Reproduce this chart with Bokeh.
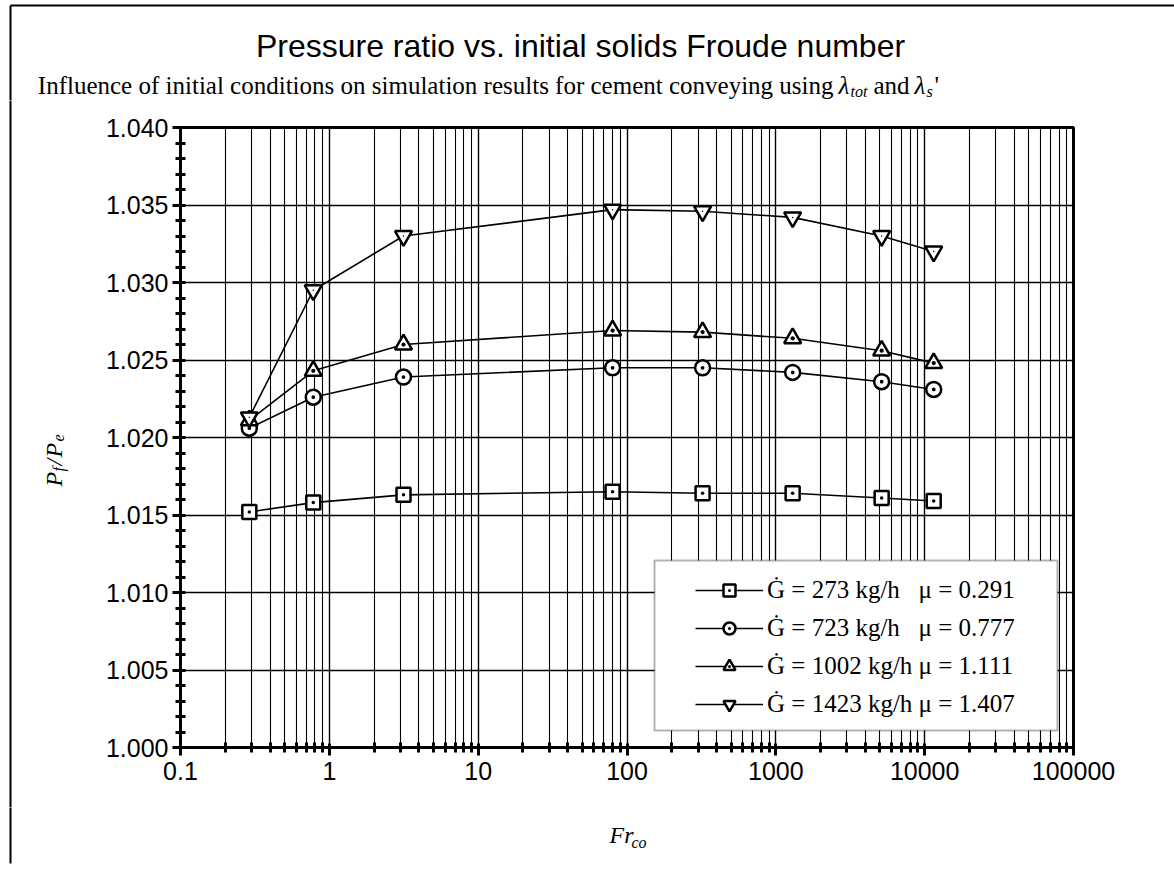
import math
from bokeh.plotting import figure
from bokeh.layouts import column, row
from bokeh.models import (FixedTicker, SingleIntervalTicker, NumeralTickFormatter, Label,
                          Legend, LegendItem, BoxAnnotation, ColumnDataSource, Range1d)
from bokeh.embed import file_html
from bokeh.resources import INLINE

# ---------------- data ----------------
fr_co = [0.29, 0.78, 3.15, 80, 322, 1297, 5140, 11500]
ratio_273 = [1.0152, 1.0158, 1.0163, 1.0165, 1.0164, 1.0164, 1.0161, 1.0159]
ratio_723 = [1.0206, 1.0226, 1.0239, 1.0245, 1.0245, 1.0242, 1.0236, 1.0231]
ratio_1002 = [1.0211, 1.0243, 1.0260, 1.0269, 1.0268, 1.0264, 1.0256, 1.0248]
ratio_1423 = [1.0213, 1.0295, 1.0330, 1.0347, 1.0346, 1.0342, 1.0330, 1.0320]
series_labels = ["Ġ = 273 kg/h\u00a0\u00a0 μ = 0.291", "Ġ = 723 kg/h\u00a0\u00a0 μ = 0.777",
                 "Ġ = 1002 kg/h μ = 1.111", "Ġ = 1423 kg/h μ = 1.407"]
x_ticks = [0.1, 1, 10, 100, 1000, 10000, 100000]
x_minor_ticks = [k * 10.0 ** e for e in range(-1, 5) for k in range(2, 10)]
x_lo, x_hi = 0.1, 100000
y_min, y_max, y_step = 1.000, 1.040, 0.005

# ---------------- layout (canvas px) ----------------
W, H = 1174, 871
TOP_H = 100                     # title strip
YL_W = 80                       # y-label strip
FL, FT, FW, FH = 180, 127, 893, 620
FB = FT + FH
MAIN_W = W - YL_W
BOT_B = 60
MAIN_H = (FT - TOP_H) + FH + BOT_B
XL_H = H - TOP_H - MAIN_H
BORDER_X = 10
SERIF = "Liberation Serif"
SANS = "Liberation Sans"


def no_align(f):
    try:
        f.frame_align = False
    except Exception:
        pass


def blank(w, h, y0):
    # y range expressed in page pixels (top -> bottom)
    f = figure(width=w, height=h, x_range=Range1d(0, w), y_range=Range1d(y0 + h, y0),
               min_border=0, toolbar_location=None, output_backend="svg",
               x_axis_location=None, y_axis_location=None,
               background_fill_color="white", border_fill_color="white")
    f.grid.visible = False
    f.outline_line_color = None
    no_align(f)
    return f


def lab(fig, text, x, y, font, size, align="left", baseline="alphabetic", style="normal", angle=0.0):
    fig.add_layout(Label(x=x, y=y, text=text, text_font=font, text_font_size=size,
                         text_align=align, text_baseline=baseline, text_font_style=style,
                         text_color="black", angle=angle))


# ---------------- title strip ----------------
top = blank(W, TOP_H, 0)
top.line([BORDER_X, BORDER_X], [5, TOP_H + 20], line_color="black", line_width=2)
top.line([BORDER_X, W + 20], [5, 5], line_color="black", line_width=2)
lab(top, "Pressure ratio vs. initial solids Froude number", 580, 45, SANS, "32px",
    align="center", baseline="middle")
lab(top, "Influence of initial conditions on simulation results for cement conveying using",
    833, 85, SERIF, "25px", align="right")
lab(top, "λ", 838, 85, SERIF, "25px", style="italic")
lab(top, "tot", 850, 91, SERIF, "16px", style="italic")
lab(top, "and", 873, 85, SERIF, "25px")
lab(top, "λ", 914, 85, SERIF, "25px", style="italic")
lab(top, "s", 926, 91, SERIF, "16px", style="italic")
lab(top, "'", 934, 85, SERIF, "25px")

# ---------------- y-label strip ----------------
yl = blank(YL_W, MAIN_H, TOP_H)
yl.line([BORDER_X, BORDER_X], [TOP_H - 20, TOP_H + MAIN_H + 20], line_color="black", line_width=2)
ang = math.pi / 2
lab(yl, "P", 53, 486, SERIF, "24px", style="italic", angle=ang)
lab(yl, "f", 58, 471, SERIF, "16px", style="italic", angle=ang)
lab(yl, "/", 53, 465, SERIF, "24px", style="italic", angle=ang)
lab(yl, "P", 53, 457, SERIF, "24px", style="italic", angle=ang)
lab(yl, "e", 58, 441, SERIF, "16px", style="italic", angle=ang)

# ---------------- main chart ----------------
p = figure(x_axis_type="log", x_range=Range1d(x_lo, x_hi), y_range=Range1d(y_min, y_max),
           frame_width=FW, frame_height=FH,
           min_border_left=FL - YL_W, min_border_right=W - FL - FW,
           min_border_top=FT - TOP_H, min_border_bottom=BOT_B,
           output_backend="svg", toolbar_location=None,
           background_fill_color="white", border_fill_color="white")
no_align(p)
p.outline_line_color = "black"
p.outline_line_width = 3

p.xaxis.ticker = FixedTicker(ticks=x_ticks, minor_ticks=x_minor_ticks)
p.xaxis.formatter = NumeralTickFormatter(format="0.[0]")
p.yaxis.ticker = SingleIntervalTicker(interval=y_step, num_minor_ticks=5)
p.yaxis.formatter = NumeralTickFormatter(format="0.000")
for ax in (p.xaxis[0], p.yaxis[0]):
    ax.axis_line_color = "black"
    ax.axis_line_width = 3
    ax.major_tick_line_color = "black"
    ax.major_tick_line_width = 3
    ax.minor_tick_line_color = "black"
    ax.minor_tick_line_width = 3
    ax.major_tick_out = 8
    ax.major_tick_in = 4
    ax.minor_tick_out = 5
    ax.minor_tick_in = 5
    ax.major_label_text_font = SANS
    ax.major_label_text_font_size = "25px"
    ax.major_label_text_color = "black"
p.xaxis.major_label_standoff = 6
p.yaxis.major_label_standoff = 4

p.xgrid.grid_line_color = "black"
p.xgrid.grid_line_width = 1.4
p.xgrid.minor_grid_line_color = "black"
p.xgrid.minor_grid_line_width = 1.1
p.ygrid.grid_line_color = "black"
p.ygrid.grid_line_width = 1.5

series = [ratio_273, ratio_723, ratio_1002, ratio_1423]
markers = ["square_dot", "circle_dot", "triangle_dot", "inverted_triangle"]
sizes = [14, 15, 17, 17]
items = []
for vals, mk, sz, lab_text in zip(series, markers, sizes, series_labels):
    src = ColumnDataSource(dict(x=fr_co, y=vals))
    ln = p.line("x", "y", source=src, line_color="black", line_width=1.6)
    sc = p.scatter("x", "y", source=src, marker=mk, size=sz, fill_color="white",
                   line_color="black", line_width=2.5)
    items.append(LegendItem(label=lab_text, renderers=[ln, sc]))
    if mk == "inverted_triangle":
        p.scatter("x", "y", source=src, marker="dot", size=6, line_color="black",
                  fill_color="black")

# legend box (pixel layout converted through the chart's scales)
decade_px = FW / math.log10(x_hi / x_lo)
unit_px = FH / (y_max - y_min)


def x_at(px):
    return x_lo * 10 ** ((px - FL) / decade_px)


def y_at(py):
    return y_min + (FB - py) / unit_px


box = BoxAnnotation(left=x_at(654), right=x_at(1057), top=y_at(560), bottom=y_at(730),
                    fill_color="white", fill_alpha=1.0, line_color="black", line_width=2)
p.add_layout(box)

legend = Legend(items=items, location=(695 - FL, FB - 719))
legend.label_text_font = SERIF
legend.label_text_font_size = "25px"
legend.label_text_color = "black"
legend.glyph_width = 68
legend.glyph_height = 30
legend.label_height = 30
legend.label_standoff = 4
legend.spacing = 8
legend.padding = 0
legend.margin = 0
legend.border_line_color = None
legend.background_fill_alpha = 0.0
p.add_layout(legend)

# ---------------- x-label strip ----------------
y_xl = TOP_H + MAIN_H
xl = blank(W, XL_H, y_xl)
xl.line([BORDER_X, BORDER_X], [y_xl - 20, H - 8], line_color="black", line_width=2)
lab(xl, "Fr", 609, 834, SERIF, "24px", style="italic")
lab(xl, "co", 631, 842, SERIF, "16px", style="italic")

row_mid = row(yl, p)
layout = column(top, row_mid, xl)
open("out.html", "w").write(file_html(layout, INLINE))
